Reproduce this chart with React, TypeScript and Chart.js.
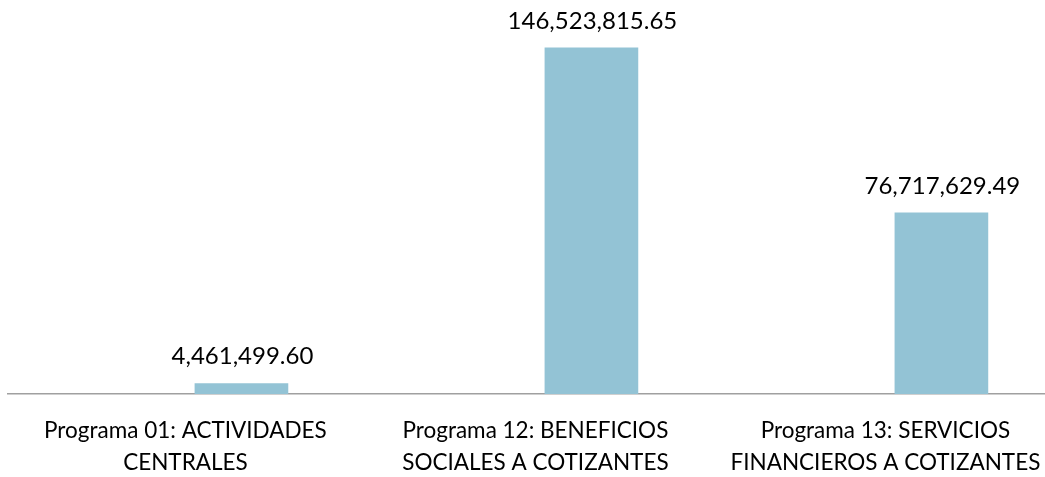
import React, { useEffect, useRef } from "react";
import { Chart, registerables } from "chart.js";

Chart.register(...registerables);

const categories: string[][] = [
  ["Programa 01: ACTIVIDADES", "CENTRALES"],
  ["Programa 12: BENEFICIOS", "SOCIALES A COTIZANTES"],
  ["Programa 13: SERVICIOS", "FINANCIEROS A COTIZANTES"],
];
const values: number[] = [4461499.6, 146523815.65, 76717629.49];
const barColor = "#93C3D5";
const FONT = "Lato";

const fmt = (v: number) =>
  v.toLocaleString("en-US", { minimumFractionDigits: 2, maximumFractionDigits: 2 });

const valueLabels = {
  id: "valueLabels",
  afterDatasetsDraw(chart: any) {
    const ctx = chart.ctx;
    const meta = chart.getDatasetMeta(0);
    ctx.save();
    ctx.font = `24px ${FONT}`;
    ctx.fillStyle = "#000";
    ctx.textAlign = "center";
    ctx.textBaseline = "alphabetic";
    meta.data.forEach((el: any, i: number) => {
      ctx.fillText(fmt(values[i]), el.x + 1, el.y - 19);
    });
    ctx.restore();
  },
};

export default function App() {
  const ref = useRef<HTMLCanvasElement>(null);
  useEffect(() => {
    document.body.style.margin = "0";
    const chart = new Chart(ref.current!, {
      type: "bar",
      data: {
        datasets: [
          {
            data: values.map((v, i) => ({ x: i, y: v })),
            backgroundColor: barColor,
            barThickness: 93,
          },
        ],
      },
      options: {
        animation: false,
        responsive: false,
        layout: { padding: { left: 8, right: 0, top: 16, bottom: 0 } },
        plugins: { legend: { display: false }, tooltip: { enabled: false } },
        scales: {
          x: {
            type: "linear",
            offset: false,
            min: -0.667,
            max: 2.296,
            grid: { display: false, drawTicks: false, offset: false },
            border: { display: true, color: "#A0A0A0", width: 1.5 },
            afterBuildTicks: (scale: any) => {
              scale.ticks = [{ value: 0 }, { value: 1 }, { value: 2 }];
            },
            afterFit: (scale: any) => {
              scale.height = 83;
              scale.paddingLeft = 0;
              scale.paddingRight = 0;
            },
            ticks: {
              autoSkip: false,
              maxRotation: 0,
              padding: 20,
              labelOffset: -56,
              color: "#000",
              font: { family: FONT, size: 22.5, lineHeight: 1.45 },
              callback: (v: any) => categories[v as number] ?? "",
            },
          },
          y: {
            display: false,
            min: 0,
            max: 160000000,
          },
        },
      },
      plugins: [valueLabels],
    });
    return () => chart.destroy();
  }, []);
  return (
    <div style={{ width: 1045, height: 477 }}>
      <canvas ref={ref} width={1045} height={477} />
    </div>
  );
}
